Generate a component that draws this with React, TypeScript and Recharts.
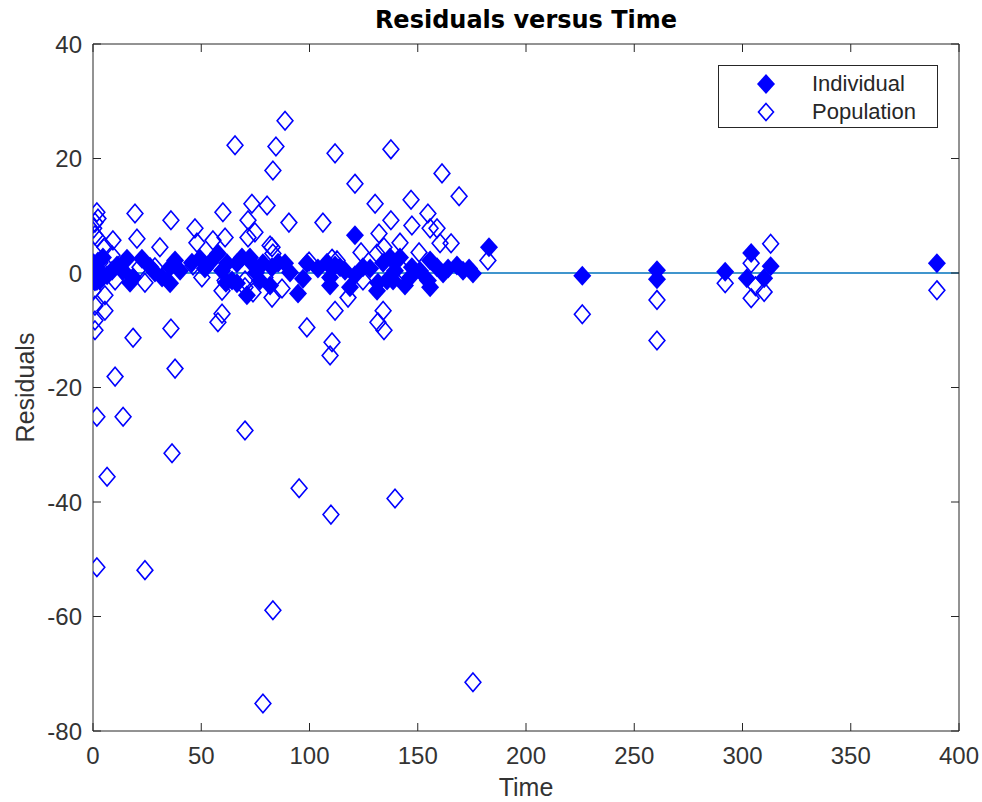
import React from 'react';
import { ScatterChart, Scatter, XAxis, YAxis, ReferenceLine, Legend } from 'recharts';

const xTicks = [0, 50, 100, 150, 200, 250, 300, 350, 400];
const yTicks = [-80, -60, -40, -20, 0, 20, 40];

const indTime = [0.3, 0.9, 1.8, 2.3, 3.2, 4.6, 6.5, 8.8, 11.1, 13.9, 15.7, 17.1, 18.5, 22.6, 26.3, 28.6, 31.9, 35.6, 35.6, 37.9, 40.2, 45.7, 49.4, 51.7, 54, 57.7, 59.6, 61.4, 61.9, 64.2, 66.5, 66.5, 68.8, 71.1, 72.5, 73.4, 75.3, 77.1, 78.5, 81.8, 82.7, 85.5, 88.7, 91, 94.7, 97, 98.8, 103.9, 108.1, 109.5, 109.5, 111.8, 114.1, 116.4, 118.7, 121, 121, 124.7, 128, 131.2, 131.6, 134, 135.8, 137.2, 138.6, 139.5, 141.8, 144.1, 146.4, 147.3, 151, 154.7, 155.7, 155.7, 158.9, 161.7, 164, 168.1, 170.9, 173.7, 175.5, 182.9, 226, 260.5, 260.5, 292, 302, 304, 310, 313, 389.8];
const indResid = [1.7, -1.5, 0.8, 2.0, -1.3, 2.7, -0.4, 0.4, 1.3, 0.4, 2.5, -1.7, -0.8, 2.5, 1.1, 0.1, -0.8, 1, -1.8, 2.2, 0.4, 1.8, 2.5, 0.8, 1.8, 3.4, 0.4, -1.7, 1.7, -1.3, 1.7, -1.8, 2.7, -3.9, 2.7, 1.7, 0.1, -1.3, 1.7, -2.2, 1, 1.8, 1.7, 0.1, -3.6, -1, 1.7, 0.8, 1.8, -0.8, -2.2, 1.3, 1, 0.4, -2.5, 6.6, -0.4, 1, 0.8, -3.1, -1.7, 1.8, -1.3, 2.7, -1.3, 0.4, 2.7, -2.2, -0.8, 1, 0.4, -1.3, 2.2, -2.5, 1, -0.1, 0.8, 1.3, 0.4, 0.8, -0.1, 4.5, -0.5, 0.5, -1.1, 0.2, -0.9, 3.5, -0.9, 1.2, 1.7];

const popTime = [1.8, 19.4, 36, 60, 73.4, 80.4, 0.9, 2.3, 0.3, 0.9, 9.2, 20.3, 30.9, 47.1, 48, 55.4, 61, 71.6, 71.6, 74.8, 82.7, 1.8, 5.5, 8.8, 0.3, 3.2, 21.7, 28.6, 46.2, 1.8, 10.2, 24, 50.3, 61, 70.2, 79.4, 0, 5.5, 59.6, 70.2, 0.9, 5.5, 59.6, 82.7, 0.9, 36, 57.7, 18.5, 0.9, 10.2, 37.9, 1.8, 13.9, 70.2, 36.5, 6.5, 1.8, 24, 65.6, 88.7, 84.5, 83.1, 111.8, 137.6, 121, 161.2, 169.1, 130.3, 146.9, 90.5, 106.2, 81.8, 83.1, 137.6, 132.1, 147.3, 154.7, 155.7, 158.9, 165.4, 160.3, 141.8, 134.4, 150.6, 110.4, 112.7, 131.2, 182.4, 143.2, 124.7, 87.3, 73.9, 117.8, 111.8, 134, 98.8, 131.6, 134.4, 110.4, 109.5, 95.2, 109.9, 139.5, 83.1, 78.5, 175.5, 99.8, 123.8, 226, 260.5, 260.5, 292, 304, 304, 306, 310, 313, 389.8];
const popResid = [10.6, 10.4, 9.2, 10.6, 12.1, 11.8, 8.8, 9.5, 7.8, 6.6, 5.7, 6, 4.5, 7.8, 5.3, 5.7, 6.2, 9.2, 6.2, 7.1, 4.5, 6.2, 4.5, 3.1, 1.3, 1.8, 1, 1, 1.3, -1.3, -1.3, -1.7, -0.8, -1.3, -1.3, -0.8, -3.1, -3.9, -3.1, -2.5, -5.7, -6.6, -7.1, -4.3, -8.3, -9.7, -8.6, -11.3, -10, -18.1, -16.7, -25.1, -25.1, -27.5, -31.5, -35.6, -51.4, -51.9, 22.3, 26.6, 22.1, 17.9, 20.9, 21.6, 15.6, 17.4, 13.4, 12.1, 12.8, 8.8, 8.8, 4.8, 3.4, 9.2, 6.9, 8.3, 10.4, 7.8, 7.8, 5.2, 5.2, 5.3, 4.5, 3.6, 2.5, 2.2, 3.4, 2.2, 0.4, -1.3, -2.7, -3.4, -4.3, -6.6, -6.6, -9.5, -8.6, -10, -12.1, -14.4, -37.6, -42.2, -39.4, -58.9, -75.2, -71.5, 2, 3.6, -7.2, -4.7, -11.8, -1.8, 1.7, -4.4, -2.3, -3.3, 5.1, -3];

const seriesNames = ['Individual', 'Population'];
const chartTitle = 'Residuals versus Time';

const indData = indTime.map((t, i) => ({ t, r: indResid[i] }));
const popData = popTime.map((t, i) => ({ t, r: popResid[i] }));

const BLUE = '#0000ff';
const AXIS = '#262626';
const FONT = '"Liberation Sans", Arial, sans-serif';

const FilledDiamond = (props: any) => {
  const { cx, cy } = props;
  if (cx == null || cy == null) return null;
  return <path d={`M${cx},${cy - 10}L${cx + 9},${cy}L${cx},${cy + 10}L${cx - 9},${cy}Z`} fill={BLUE} />;
};

const OpenDiamond = (props: any) => {
  const { cx, cy } = props;
  if (cx == null || cy == null) return null;
  return (
    <path
      d={`M${cx},${cy - 9.3}L${cx + 7.9},${cy}L${cx},${cy + 9.3}L${cx - 7.9},${cy}Z`}
      fill="none"
      stroke={BLUE}
      strokeWidth={1.6}
    />
  );
};

const LegendBox = () => (
  <div
    style={{
      position: 'relative',
      width: 220,
      height: 63,
      boxSizing: 'border-box',
      border: `1px solid ${AXIS}`,
      background: '#fff',
      fontFamily: FONT,
      fontSize: 22,
      color: AXIS,
    }}
  >
    {seriesNames.map((name, i) => (
      <div key={name} style={{ position: 'absolute', left: 0, top: 4 + i * 28, height: 28, width: 218 }}>
        <svg width={24} height={26} style={{ position: 'absolute', left: 35, top: 1 }}>
          {i === 0 ? (
            <path d="M12,3L21,13L12,23L3,13Z" fill={BLUE} />
          ) : (
            <path d="M12,4.5L19.5,13L12,21.5L4.5,13Z" fill="none" stroke={BLUE} strokeWidth={1.6} />
          )}
        </svg>
        <span style={{ position: 'absolute', left: 93, top: 1, lineHeight: '26px', whiteSpace: 'nowrap' }}>{name}</span>
      </div>
    ))}
  </div>
);

export default function App() {
  return (
    <div style={{ position: 'fixed', left: 0, top: 0, width: 982, height: 802, background: '#fff' }}>
      <div
        style={{
          position: 'absolute',
          left: 93,
          width: 866,
          top: 6,
          textAlign: 'center',
          fontFamily: '"DejaVu Sans", sans-serif',
          fontWeight: 'bold',
          fontSize: 24,
          lineHeight: '28px',
          color: '#000',
          zIndex: 2,
        }}
      >
        {chartTitle}
      </div>
      <ScatterChart width={982} height={802} margin={{ top: 43, right: 22, bottom: 0, left: 0 }}>
        <XAxis
          xAxisId="bottom"
          dataKey="t"
          type="number"
          domain={[0, 400]}
          ticks={xTicks}
          orientation="bottom"
          height={71}
          tickSize={-8}
          tickMargin={24}
          axisLine={{ stroke: AXIS, strokeWidth: 1 }}
          tickLine={{ stroke: AXIS, strokeWidth: 1 }}
          tick={{ fill: '#333', fontSize: 24, fontFamily: FONT }}
          allowDataOverflow
          label={{ value: 'Time', position: 'insideBottom', offset: 6, fill: '#333', fontSize: 25, fontFamily: FONT }}
        />
        <XAxis
          xAxisId="top"
          dataKey="t"
          type="number"
          domain={[0, 400]}
          ticks={xTicks}
          orientation="top"
          height={1}
          tickSize={-8}
          tickFormatter={() => ''}
          axisLine={{ stroke: AXIS, strokeWidth: 1 }}
          tickLine={{ stroke: AXIS, strokeWidth: 1 }}
          allowDataOverflow
        />
        <YAxis
          yAxisId="left"
          dataKey="r"
          type="number"
          domain={[-80, 40]}
          ticks={yTicks}
          orientation="left"
          width={93}
          tickSize={-8}
          tickMargin={19}
          axisLine={{ stroke: AXIS, strokeWidth: 1 }}
          tickLine={{ stroke: AXIS, strokeWidth: 1 }}
          tick={{ fill: '#333', fontSize: 24, fontFamily: FONT }}
          allowDataOverflow
          label={{
            value: 'Residuals',
            angle: -90,
            position: 'insideLeft',
            offset: 25,
            fill: '#333',
            fontSize: 25,
            fontFamily: FONT,
            style: { textAnchor: 'middle' },
          }}
        />
        <YAxis
          yAxisId="right"
          dataKey="r"
          type="number"
          domain={[-80, 40]}
          ticks={yTicks}
          orientation="right"
          width={1}
          tickSize={-8}
          tickFormatter={() => ''}
          axisLine={{ stroke: AXIS, strokeWidth: 1 }}
          tickLine={{ stroke: AXIS, strokeWidth: 1 }}
          allowDataOverflow
        />
        <Scatter
          name={seriesNames[0]}
          data={indData}
          xAxisId="bottom"
          yAxisId="left"
          shape={FilledDiamond}
          isAnimationActive={false}
        />
        <Scatter
          name={seriesNames[1]}
          data={popData}
          xAxisId="top"
          yAxisId="right"
          shape={OpenDiamond}
          isAnimationActive={false}
        />
        <ReferenceLine xAxisId="bottom" yAxisId="left" y={0} stroke="#0072BD" strokeWidth={1.6} />
        <Legend
          layout="vertical"
          align="center"
          verticalAlign="middle"
          content={LegendBox}
          wrapperStyle={{ position: 'absolute', left: 718, top: 65, width: 220, height: 63 }}
        />
      </ScatterChart>
    </div>
  );
}
